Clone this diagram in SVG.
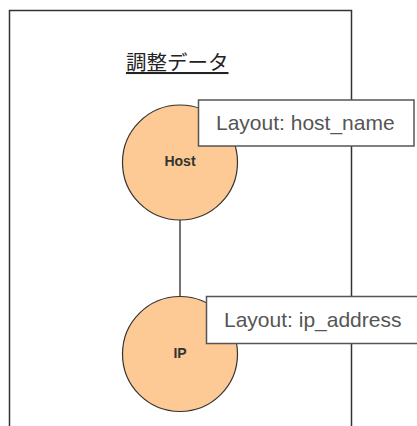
<svg xmlns="http://www.w3.org/2000/svg" width="417" height="426" viewBox="0 0 417 426">
<style>
.frame{fill:none;stroke:#333;stroke-width:1.5}
.node circle{fill:#fdc994;stroke:#333;stroke-width:1.2}
.node text{font-family:"Liberation Sans",Arial,sans-serif;font-size:14px;font-weight:bold;fill:#333;text-anchor:middle}
.edge{stroke:#444;stroke-width:1.5;fill:none}
.tip rect{fill:#fff;stroke:#555;stroke-width:1.5}
.tip text{font-family:"Liberation Sans",Arial,sans-serif;font-size:21px;fill:#555}
.title{font-family:"Noto Sans CJK JP",sans-serif;font-size:20.5px;fill:#222;text-decoration:underline}
</style>
<rect width="417" height="426" fill="#fff"/>
<path class="frame" d="M9.5,426 V10.5 H351.5 V426"/>
<text class="title" x="126" y="70">調整データ</text>
<g id="connectors">
<line class="edge" x1="180" y1="220" x2="180" y2="296"/>
</g>
<g id="host" class="node">
<circle cx="180" cy="162.5" r="57.5"/>
<text x="180" y="166">Host</text>
</g>
<g id="ip" class="node">
<circle cx="180" cy="354" r="57.5"/>
<text x="180" y="358">IP</text>
</g>
<g id="tip-host" class="tip">
<rect x="198.5" y="100" width="215.5" height="46"/>
<text x="216" y="129.5">Layout: host_name</text>
</g>
<g id="tip-ip" class="tip">
<rect x="206.5" y="296.5" width="220" height="47"/>
<text x="224" y="327">Layout: ip_address</text>
</g>
</svg>
